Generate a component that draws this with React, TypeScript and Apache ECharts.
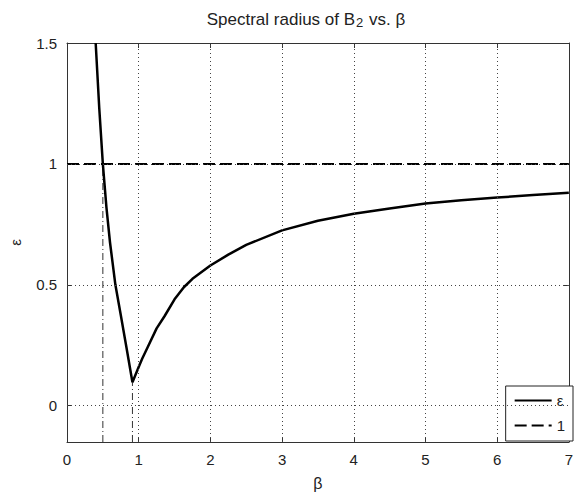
import React, { useEffect, useRef } from "react";
import * as echarts from "echarts";

const betaVals = [0.40, 0.45, 0.50, 0.55, 0.60, 0.675, 0.75, 0.83, 0.913, 1.0, 1.05, 1.13, 1.25, 1.36, 1.5, 1.63, 1.75, 2.0, 2.25, 2.5, 3.0, 3.5, 4.0, 4.5, 5.0, 5.5, 6.0, 6.5, 7.0];
const rhoVals = [1.5, 1.23, 1.0, 0.82, 0.675, 0.5, 0.375, 0.24, 0.097, 0.16, 0.195, 0.245, 0.32, 0.37, 0.44, 0.49, 0.525, 0.58, 0.625, 0.665, 0.725, 0.765, 0.794, 0.816, 0.836, 0.85, 0.861, 0.871, 0.881];
const oneLineX = [0, 7];
const oneLineY = [1, 1];
const crossBeta = 0.5;
const crossRho = 1.0;
const minBeta = 0.913;
const minRho = 0.097;
const yTicks = [0, 0.5, 1, 1.5];
const xGridValues = [1, 2, 3, 4, 5, 6];
const yGridValues = [0, 0.5, 1];
const Y_MIN = -0.15;
const Y_MAX = 1.5;

const FONT = "Liberation Sans";

export default function App() {
  const ref = useRef<HTMLDivElement>(null);
  useEffect(() => {
    document.body.style.margin = "0";
    const chart = echarts.init(ref.current!, undefined, { renderer: "svg" });
    const axisLineStyle = { color: "#333", width: 1 };
    const tickStyle = { color: "#333", width: 1 };
    const option: any = {
      animation: false,
      backgroundColor: "#fff",
      grid: { left: 64, right: 1, top: 43, bottom: 54, containLabel: false },
      graphic: [
        {
          type: "text",
          x: 306,
          y: 20,
          style: {
            text: "{a|Spectral radius of B}{s|2}{a| vs. β}",
            textAlign: "center",
            textVerticalAlign: "middle",
            rich: {
              a: { fontSize: 17, fontFamily: FONT, fill: "#222", lineHeight: 18, verticalAlign: "top" },
              s: { fontSize: 13, fontFamily: FONT, fill: "#222", lineHeight: 11, verticalAlign: "bottom", padding: [13, 1, 0, 1] },
            },
          },
        },
      ],
      xAxis: [
        {
          type: "value",
          min: 0,
          max: 7,
          interval: 1,
          position: "bottom",
          name: "β",
          nameLocation: "middle",
          nameGap: 33,
          nameTextStyle: { fontSize: 16, fontFamily: FONT, color: "#222" },
          axisLine: { show: true, onZero: false, lineStyle: axisLineStyle },
          axisTick: { show: true, inside: true, length: 5, lineStyle: tickStyle },
          axisLabel: { show: true, margin: 10, fontSize: 15, fontFamily: FONT, color: "#222" },
          splitLine: { show: false },
        },
        {
          type: "value",
          min: 0,
          max: 7,
          interval: 1,
          position: "top",
          axisLine: { show: true, onZero: false, lineStyle: axisLineStyle },
          axisTick: { show: true, inside: true, length: 5, lineStyle: tickStyle },
          axisLabel: { show: false },
          splitLine: { show: false },
        },
      ],
      yAxis: [
        {
          type: "value",
          min: Y_MIN,
          max: Y_MAX,
          position: "left",
          name: "ε",
          nameLocation: "middle",
          nameGap: 44,
          nameRotate: 90,
          nameTextStyle: { fontSize: 15, fontFamily: FONT, color: "#222" },
          axisLine: { show: true, onZero: false, lineStyle: axisLineStyle },
          axisTick: { show: true, inside: true, length: 5, lineStyle: tickStyle, customValues: yTicks },
          axisLabel: { show: true, margin: 10, fontSize: 15, fontFamily: FONT, color: "#222", customValues: yTicks },
          splitLine: { show: false },
        },
        {
          type: "value",
          min: Y_MIN,
          max: Y_MAX,
          position: "right",
          axisLine: { show: true, onZero: false, lineStyle: axisLineStyle },
          axisTick: { show: true, inside: true, length: 5, lineStyle: tickStyle, customValues: yTicks },
          axisLabel: { show: false, customValues: yTicks },
          splitLine: { show: false },
        },
      ],
      legend: {
        data: ["ε", "1"],
        orient: "vertical",
        right: 3,
        top: 386,
        itemWidth: 37,
        itemHeight: 14,
        itemGap: 10,
        padding: [7, 8, 8, 8],
        borderColor: "#222",
        borderWidth: 1,
        backgroundColor: "#fff",
        itemStyle: { color: "rgba(0,0,0,0)", borderWidth: 0, opacity: 0 },
        textStyle: { fontSize: 15, fontFamily: FONT, color: "#222" },
        selectedMode: false,
      },
      series: [
        {
          name: "grid",
          type: "line",
          data: [],
          silent: true,
          markLine: {
            silent: true,
            symbol: "none",
            label: { show: false },
            lineStyle: { color: "#444", width: 1, type: [1, 3] },
            data: [
              ...xGridValues.map((v) => ({ xAxis: v })),
              ...yGridValues.map((v) => ({ yAxis: v })),
            ],
          },
        },
        {
          name: "v1",
          type: "line",
          symbol: "none",
          silent: true,
          lineStyle: { color: "#333", width: 1, type: [7, 3, 1, 3] },
          data: [[crossBeta, Y_MIN], [crossBeta, crossRho]],
        },
        {
          name: "v2",
          type: "line",
          symbol: "none",
          silent: true,
          lineStyle: { color: "#333", width: 1, type: [7, 3, 1, 3] },
          data: [[minBeta, Y_MIN], [minBeta, minRho]],
        },
        {
          name: "1",
          type: "line",
          symbol: "none",
          color: "#000",
          lineStyle: { color: "#000", width: 2, type: [12, 5] },
          data: oneLineX.map((x, i) => [x, oneLineY[i]]),
        },
        {
          name: "ε",
          type: "line",
          symbol: "none",
          color: "#000",
          lineStyle: { color: "#000", width: 2.5 },
          data: betaVals.map((b, i) => [b, rhoVals[i]]),
        },
      ],
    };
    chart.setOption(option);
    return () => chart.dispose();
  }, []);
  return <div ref={ref} style={{ width: 576, height: 496 }} />;
}
